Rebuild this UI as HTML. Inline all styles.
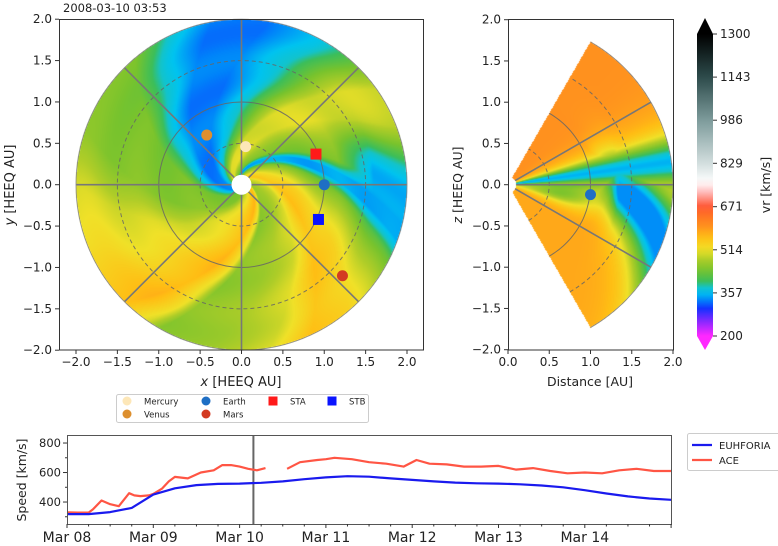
<!DOCTYPE html>
<html><head><meta charset="utf-8">
<style>
html,body{margin:0;padding:0;background:#fff;}
#wrap{position:relative;width:778px;height:546px;overflow:hidden;font-family:"Liberation Sans","DejaVu Sans",sans-serif;}
canvas{position:absolute;}
svg{position:absolute;left:0;top:0;}
text{font-family:"DejaVu Sans","Liberation Sans",sans-serif;fill:#222;}
</style></head>
<body>
<div id="wrap">
<canvas id="cl" width="365" height="331" style="left:59px;top:19px"></canvas>
<canvas id="cr" width="165" height="331" style="left:508px;top:19px"></canvas>
<svg id="s" width="778" height="546">
<defs><linearGradient id="cbg" x1="0" y1="1" x2="0" y2="0"></linearGradient></defs>
</svg>
</div>
<script>
// ---- data ----
const cbTicks=[200,357,514,671,829,986,1143,1300];
const axTicks=[-2.0,-1.5,-1.0,-0.5,0.0,0.5,1.0,1.5,2.0];
const distTicks=[0.0,0.5,1.0,1.5,2.0];
const dayLabels=["Mar 08","Mar 09","Mar 10","Mar 11","Mar 12","Mar 13","Mar 14"];
const speedTicks=[400,600,800];
const euhTimes=[0,0.25,0.5,0.75,1,1.25,1.5,1.75,2,2.25,2.5,2.75,3,3.25,3.5,3.75,4,4.25,4.5,4.75,5,5.25,5.5,5.75,6,6.25,6.5,6.75,7];
const euhVals=[318,318,332,360,450,493,515,523,525,530,540,555,567,575,572,560,550,540,532,527,525,520,512,500,480,458,438,424,415];
const aceTimes=[0,0.125,0.25,0.3,0.4,0.5,0.6,0.72,0.78,0.85,0.95,1.0,1.1,1.18,1.25,1.4,1.55,1.7,1.8,1.9,2.0,2.1,2.2,2.3,2.35,2.45,2.55,2.7,2.9,3.0,3.1,3.3,3.5,3.7,3.9,4.05,4.2,4.4,4.6,4.8,5.0,5.2,5.4,5.6,5.8,6.0,6.2,6.4,6.6,6.8,7.0];
const aceVals=[330,328,328,350,410,385,372,460,445,440,445,455,490,540,570,560,600,615,650,650,640,625,615,630,null,null,625,670,685,690,700,690,670,660,640,685,660,655,640,640,645,620,630,610,595,600,595,615,625,610,610];
const nowDay=2.16;
const bodies=[{n:"Mercury",x:0.05,y:0.46,c:"#fde7b8",sq:false},{n:"Venus",x:-0.42,y:0.6,c:"#dd8f2e",sq:false},{n:"Earth",x:1.0,y:0.0,c:"#1f6fc4",sq:false},{n:"Mars",x:1.22,y:-1.1,c:"#d33a22",sq:false},{n:"STA",x:0.9,y:0.37,c:"#ff1a1a",sq:true},{n:"STB",x:0.93,y:-0.42,c:"#0a14ff",sq:true}];

const stops=[[200,[255,40,255]],[260,[120,40,255]],[300,[20,50,255]],[330,[0,130,250]],[357,[0,195,240]],[380,[20,195,200]],[400,[60,190,90]],[440,[120,195,45]],[480,[175,205,40]],[514,[240,225,40]],[560,[255,190,20]],[600,[255,145,30]],[640,[255,115,35]],[671,[255,85,50]],[720,[255,180,180]],[760,[255,255,255]],[829,[210,222,222]],[986,[125,155,155]],[1143,[45,75,75]],[1300,[0,0,0]]];
function cmap(v){if(v<=stops[0][0])return stops[0][1];for(let i=1;i<stops.length;i++){if(v<=stops[i][0]){const a=stops[i-1],b=stops[i],t=(v-a[0])/(b[0]-a[0]);return a[1].map((c,k)=>Math.round(c+(b[1][k]-c)*t));}}return stops[stops.length-1][1];}
const psiPts=[[0,455],[20,470],[40,500],[55,555],[70,530],[84,480],[93,440],[100,345],[106,345],[113,440],[125,460],[140,505],[155,500],[168,430],[180,370],[200,328],[220,328],[235,370],[250,440],[280,450],[300,500],[320,520],[345,565],[355,510],[360,455]];
function psiSpeed(p){for(let i=1;i<psiPts.length;i++){if(p<=psiPts[i][0]){const a=psiPts[i-1],b=psiPts[i];return a[1]+(b[1]-a[1])*(p-a[0])/(b[0]-a[0]);}}return 455;}

// left map
const S=82.75,CX=241.5,CY=184.7;
(function(){const c=document.getElementById('cl'),g=c.getContext('2d'),im=g.createImageData(365,331);
for(let py=0;py<331;py++)for(let px=0;px<365;px++){const x=(px+59+0.5-CX)/S,y=(CY-(py+19+0.5))/S,r=Math.hypot(x,y);if(r>2||r<0.08)continue;
let ph=Math.atan2(y,x)*180/Math.PI+40*Math.log(Math.max(r,0.1)/0.1);ph=((ph%360)+360)%360;let v=psiSpeed(ph)+6*Math.sin(r*9+ph/30);
if(r>1.2){const w=Math.min(1,(r-1.2)/0.4),q=(ph-115)/17,gg=Math.exp(-q*q)*w;v=v*(1-gg)+345*gg;}
const col=cmap(v),i=(py*365+px)*4;im.data[i]=col[0];im.data[i+1]=col[1];im.data[i+2]=col[2];im.data[i+3]=255;}
g.putImageData(im,0,0);})();
// right map
const RX=508,RS=82.5;
(function(){const c=document.getElementById('cr'),g=c.getContext('2d'),im=g.createImageData(165,331);
for(let py=0;py<331;py++)for(let px=0;px<165;px++){const x=(px+0.5)/RS,y=(CY-(py+19+0.5))/RS,r=Math.hypot(x,y),th=Math.atan2(y,x)*180/Math.PI;if(r>2||r<0.1||Math.abs(th)>60)continue;
let base;
if(th>0)base=600;else{const q=(th+10)/10,q2=(r-0.65)/0.4;base=580-80*Math.exp(-q*q)*Math.exp(-q2*q2)-30*Math.exp(-q*q);}
const d1=(th-8)/8,h1=(th-8)/18;
const s=Math.min(1,Math.max(0,(r-1.05)/0.3));
const tc2=5-(r-1.2)*35,d2=(th-tc2)/16,h2=(th-tc2)/26;
const b=Math.max(Math.exp(-d1*d1),s*Math.exp(-d2*d2));
const h=Math.max(Math.exp(-h1*h1),s*Math.exp(-h2*h2));
let v=Math.max(335,base-190*b-60*h);
const col=cmap(v),i=(py*165+px)*4;im.data[i]=col[0];im.data[i+1]=col[1];im.data[i+2]=col[2];im.data[i+3]=255;}
g.putImageData(im,0,0);})();

const svg=document.getElementById('s'),NS="http://www.w3.org/2000/svg";
function E(tag,at,txt){const e=document.createElementNS(NS,tag);for(const k in at)e.setAttribute(k,at[k]);if(txt!==undefined)e.textContent=txt;svg.appendChild(e);return e;}
function T(x,y,s,anchor,size,name){const e=E('text',{x:x,y:y,'text-anchor':anchor,'font-size':size},s);return e;}
const fmt=v=>(v<0?"\u2212":"")+Math.abs(v).toFixed(1);

// ---- left panel ----
const lx=v=>CX+v*S, ly=v=>CY-v*S;
let e;
[[1,false],[0.5,true],[1.5,true]].forEach(([r,d])=>{e=E('circle',{cx:CX,cy:CY,r:r*S,fill:'none',stroke:'#666','stroke-width':1,'stroke-dasharray':d?'4,3':'none',opacity:0.85});});
[0,45,90,135].forEach(a=>{const c=Math.cos(a*Math.PI/180)*2,s=Math.sin(a*Math.PI/180)*2;e=E('line',{x1:lx(-c),y1:ly(-s),x2:lx(c),y2:ly(s),stroke:'#777','stroke-width':1.6});});
e=E('circle',{cx:CX,cy:CY,r:2*S,fill:'none',stroke:'#888','stroke-width':0.8});
e=E('circle',{cx:CX,cy:CY,r:10,fill:'#fff'});
bodies.forEach(b=>{if(b.sq)e=E('rect',{x:lx(b.x)-5.5,y:ly(b.y)-5.5,width:11,height:11,fill:b.c});else e=E('circle',{cx:lx(b.x),cy:ly(b.y),r:5.5,fill:b.c});});
e=E('rect',{x:59.5,y:19.5,width:364,height:330.5,fill:'none',stroke:'#333','stroke-width':1});
axTicks.forEach(v=>{E('line',{x1:lx(v),y1:350,x2:lx(v),y2:354,stroke:'#333'});T(lx(v),366,fmt(v),'middle',12,'x-tick-label');
E('line',{x1:55,y1:ly(v),x2:59,y2:ly(v),stroke:'#333'});T(52,ly(v)+4,fmt(v),'end',12,'y-tick-label');});
T(241,386,'','middle',13,'x-axis-title').innerHTML='<tspan font-style="italic">x</tspan> [HEEQ AU]';
e=T(0,0,'','middle',13,'y-axis-title');e.innerHTML='<tspan font-style="italic">y</tspan> [HEEQ AU]';e.setAttribute('transform','translate(14,185) rotate(-90)');
T(63,12,'2008-03-10 03:53','start',11.5,'timestamp-title');

// legend
e=E('rect',{x:116.5,y:394.5,width:252,height:28,fill:'#fff',stroke:'#ccc',rx:2});
const legPos=[[127,401],[127,414],[206,401],[206,414],[273,401],[332,401]];
bodies.forEach((b,i)=>{const [mx,my]=legPos[i];if(b.sq)e=E('rect',{x:mx-4.5,y:my-4.5,width:9,height:9,fill:b.c});else e=E('circle',{cx:mx,cy:my,r:4.5,fill:b.c});
T(mx+17,my+3.5,b.n,'start',8.5,'legend-label-'+b.n.toLowerCase());});

// ---- right panel ----
const rx=v=>RX+v*RS, ry=v=>CY-v*RS;
function arc(r,a0,a1){const p=[];for(let a=a0;a<=a1+0.01;a+=2){const t=a*Math.PI/180;p.push((p.length?'L':'M')+rx(r*Math.cos(t)).toFixed(1)+','+ry(r*Math.sin(t)).toFixed(1));}return p.join(' ');}
[[0.5,true],[1,false],[1.5,true]].forEach(([r,d])=>{e=E('path',{d:arc(r,-60,60),fill:'none',stroke:'#666','stroke-width':1,'stroke-dasharray':d?'4,3':'none',opacity:0.85});});
e=E('path',{d:arc(2,-60,60),fill:'none',stroke:'#888','stroke-width':0.8});
[-30,0,30].forEach(a=>{const t=a*Math.PI/180;e=E('line',{x1:rx(0.1*Math.cos(t)),y1:ry(0.1*Math.sin(t)),x2:rx(2*Math.cos(t)),y2:ry(2*Math.sin(t)),stroke:'#777','stroke-width':1.6});});
e=E('circle',{cx:rx(1),cy:ry(-0.12),r:5.5,fill:'#1f6fc4'});
e=E('rect',{x:508.5,y:19.5,width:165,height:330.5,fill:'none',stroke:'#333'});
distTicks.forEach(v=>{E('line',{x1:rx(v),y1:350,x2:rx(v),y2:354,stroke:'#333'});T(rx(v),366,v.toFixed(1),'middle',12,'distance-tick-label');});
axTicks.forEach(v=>{E('line',{x1:504,y1:ry(v),x2:508,y2:ry(v),stroke:'#333'});T(501,ry(v)+4,fmt(v),'end',12,'z-tick-label');});
T(590,386,'Distance [AU]','middle',12.5,'distance-axis-title');
e=T(0,0,'','middle',12.5,'z-axis-title');e.innerHTML='<tspan font-style="italic">z</tspan> [HEEQ AU]';e.setAttribute('transform','translate(462,185) rotate(-90)');

// ---- colorbar ----
const gr=document.querySelector('#cbg');
for(let v=200;v<=1300;v+=25){const c=cmap(v);const st=document.createElementNS(NS,'stop');st.setAttribute('offset',((v-200)/1100).toFixed(4));st.setAttribute('stop-color','rgb('+c.join(',')+')');gr.appendChild(st);}
const cbY=v=>336-(v-200)/1100*302;
e=E('rect',{x:697,y:34,width:16,height:302,fill:'url(#cbg)'});
e=E('path',{d:'M697,34 L705,18 L713,34 Z',fill:'#000'});
e=E('path',{d:'M697,336 L705,350 L713,336 Z',fill:'rgb(255,40,255)'});
cbTicks.forEach(v=>{E('line',{x1:713,y1:cbY(v),x2:717,y2:cbY(v),stroke:'#333'});T(720,cbY(v)+4,String(v),'start',12,'colorbar-tick-label');});
e=T(0,0,'vr  [km/s]','middle',12.5,'colorbar-title');e.setAttribute('transform','translate(770,185) rotate(-90)');

// ---- time series ----
const X0=67,X1=671,Y0=524,Y1=435;
const tx=d=>X0+d*86.3, ty=v=>Y0-(v-251)*29.5/200;
function line(ts,vs,col,name){let d='',pen=false;ts.forEach((t,i)=>{const v=vs[i];if(v===null){pen=false;return;}d+=(pen?'L':'M')+tx(t).toFixed(1)+','+ty(v).toFixed(1)+' ';pen=true;});e=E('path',{d:d,fill:'none',stroke:col,'stroke-width':2.2,'stroke-linejoin':'round'});}
e=E('line',{x1:tx(nowDay),y1:Y1,x2:tx(nowDay),y2:Y0,stroke:'#666','stroke-width':2});
line(aceTimes,aceVals,'#ff5544','ace-series');
line(euhTimes,euhVals,'#1a1aee','euhforia-series');
e=E('rect',{x:X0+0.5,y:Y1+0.5,width:X1-X0,height:Y0-Y1,fill:'none',stroke:'#555','stroke-width':1});
for(let k=0;k<=28;k++){const big=k%4===0;E('line',{x1:tx(k/4),y1:Y0,x2:tx(k/4),y2:Y0+(big?4:2.5),stroke:'#333'});}
dayLabels.forEach((s,i)=>T(tx(i),542,s,'middle',14,'date-tick-label'));
speedTicks.forEach(v=>{E('line',{x1:63,y1:ty(v),x2:67,y2:ty(v),stroke:'#333'});T(61,ty(v)+4,String(v),'end',11.5,'speed-tick-label');});
[300,500,700].forEach(v=>E('line',{x1:65,y1:ty(v),x2:67,y2:ty(v),stroke:'#333'}));
e=T(0,0,'Speed [km/s]','middle',12.5,'speed-axis-title');e.setAttribute('transform','translate(26,480) rotate(-90)');
e=E('rect',{x:687.5,y:433.5,width:95,height:37,fill:'#fff',stroke:'#ccc',rx:2});
e=E('line',{x1:692,y1:445,x2:712,y2:445,stroke:'#1a1aee','stroke-width':2.2});
e=E('line',{x1:692,y1:460,x2:712,y2:460,stroke:'#ff5544','stroke-width':2.2});
T(719,449,'EUHFORIA','start',10,'legend-label-euhforia');
T(719,464,'ACE','start',10,'legend-label-ace');
</script>
</body></html>
